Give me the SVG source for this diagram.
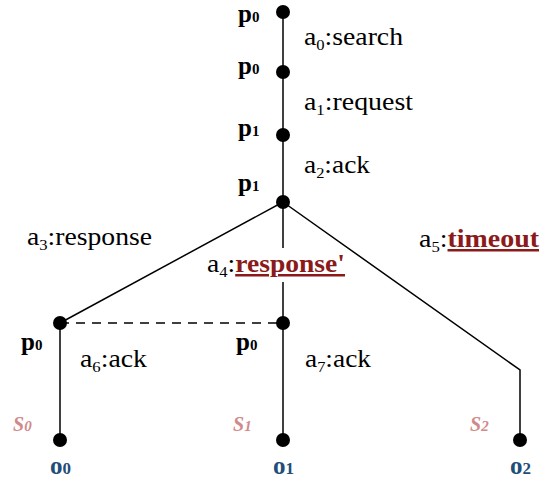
<svg xmlns="http://www.w3.org/2000/svg" width="541" height="481" viewBox="0 0 541 481">
<defs>
<style>
.ln{stroke:#000;stroke-width:1.5;fill:none;}
.nd{fill:#000;}
text{font-family:"Liberation Serif","Times New Roman",serif;}
.p{font-size:25px;font-weight:bold;fill:#000;}
.lbl{font-size:25px;fill:#000;}
.s{font-size:20px;font-weight:bold;font-style:italic;fill:#d08a8a;}
.o{font-size:25px;font-weight:bold;fill:#1f4e79;}
.hl{fill:#8b1a1a;font-weight:bold;text-decoration:underline;}
</style>
</defs>
<g id="connectors">
<line class="ln" x1="283" y1="12" x2="283" y2="202"/>
<line class="ln" x1="283" y1="202" x2="60" y2="323"/>
<line class="ln" x1="283" y1="202" x2="283" y2="323"/>
<polyline class="ln" points="283,202 520,370 520,440"/>
<line class="ln" x1="60" y1="323" x2="283" y2="323" stroke-dasharray="9,7"/>
<line class="ln" x1="60" y1="323" x2="60" y2="440"/>
<line class="ln" x1="283" y1="323" x2="283" y2="440"/>
</g>
<g id="n_top0"><circle class="nd" cx="283" cy="12" r="7"/><text class="p" x="238" y="22">p<tspan font-size="15">0</tspan></text></g>
<g id="n_top1"><circle class="nd" cx="283" cy="72" r="7"/><text class="p" x="238" y="74">p<tspan font-size="15">0</tspan></text></g>
<g id="n_top2"><circle class="nd" cx="283" cy="135" r="7"/><text class="p" x="238" y="136">p<tspan font-size="15">1</tspan></text></g>
<g id="n_top3"><circle class="nd" cx="283" cy="202" r="7"/><text class="p" x="238" y="191">p<tspan font-size="15">1</tspan></text></g>
<g id="n_left"><circle class="nd" cx="60" cy="323" r="7"/><text class="p" x="21" y="350">p<tspan font-size="15">0</tspan></text></g>
<g id="n_mid"><circle class="nd" cx="283" cy="323" r="7"/><text class="p" x="236" y="350">p<tspan font-size="15">0</tspan></text></g>
<g id="n_o0"><circle class="nd" cx="60" cy="440" r="7"/><text class="s" x="13" y="431">S<tspan font-size="15">0</tspan></text><text class="o" x="50" y="474">o<tspan font-size="17">0</tspan></text></g>
<g id="n_o1"><circle class="nd" cx="283" cy="440" r="7"/><text class="s" x="233" y="431">S<tspan font-size="15">1</tspan></text><text class="o" x="273" y="474">o<tspan font-size="17">1</tspan></text></g>
<g id="n_o2"><circle class="nd" cx="520" cy="440" r="7"/><text class="s" x="470" y="431">S<tspan font-size="15">2</tspan></text><text class="o" x="510" y="474">o<tspan font-size="17">2</tspan></text></g>
<g id="labels">
<text class="lbl" x="304" y="45" textLength="99" lengthAdjust="spacingAndGlyphs">a<tspan font-size="15" dy="5">0</tspan><tspan dy="-5">:search</tspan></text>
<text class="lbl" x="304" y="110" textLength="109" lengthAdjust="spacingAndGlyphs">a<tspan font-size="15" dy="5">1</tspan><tspan dy="-5">:request</tspan></text>
<text class="lbl" x="304" y="173" textLength="66" lengthAdjust="spacingAndGlyphs">a<tspan font-size="15" dy="5">2</tspan><tspan dy="-5">:ack</tspan></text>
<text class="lbl" x="27" y="245" textLength="125" lengthAdjust="spacingAndGlyphs">a<tspan font-size="15" dy="5">3</tspan><tspan dy="-5">:response</tspan></text>
<rect x="205" y="248" width="142" height="34" fill="#fff"/>
<text class="lbl" x="207" y="272" textLength="138" lengthAdjust="spacingAndGlyphs">a<tspan font-size="15" dy="5">4</tspan><tspan dy="-5">:</tspan><tspan class="hl">response'</tspan></text>
<text class="lbl" x="419" y="247" textLength="120" lengthAdjust="spacingAndGlyphs">a<tspan font-size="15" dy="5">5</tspan><tspan dy="-5">:</tspan><tspan class="hl">timeout</tspan></text>
<text class="lbl" x="80" y="367" textLength="67" lengthAdjust="spacingAndGlyphs">a<tspan font-size="15" dy="5">6</tspan><tspan dy="-5">:ack</tspan></text>
<text class="lbl" x="305" y="367" textLength="66" lengthAdjust="spacingAndGlyphs">a<tspan font-size="15" dy="5">7</tspan><tspan dy="-5">:ack</tspan></text>
</g>
</svg>
